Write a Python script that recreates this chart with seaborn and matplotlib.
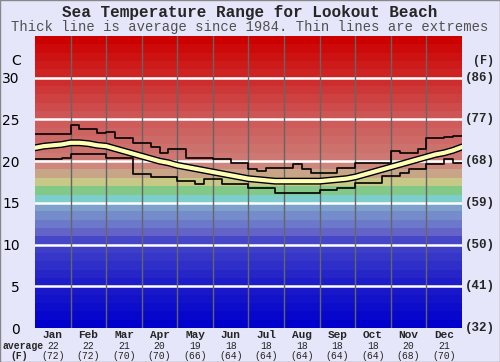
import numpy as np
import pandas as pd
import matplotlib
matplotlib.use("Agg")
import matplotlib.pyplot as plt
import matplotlib.transforms as mtransforms
from matplotlib.patches import Rectangle
import seaborn as sns

# ---------------- data ----------------
months = ["Jan", "Feb", "Mar", "Apr", "May", "Jun", "Jul", "Aug", "Sep", "Oct", "Nov", "Dec"]
avg_c = [22, 22, 21, 20, 19, 18, 18, 18, 18, 18, 20, 21]
avg_f = [72, 72, 70, 70, 66, 64, 64, 64, 64, 64, 68, 70]
c_ticks = [0, 5, 10, 15, 20, 25, 30]
f_ticks = [32, 41, 50, 59, 68, 77, 86]

# average temperature sampled every quarter month (49 points, Jan 1 .. Dec 31)
avg_line = [21.6, 21.8, 21.9, 22.0, 22.2, 22.2, 22.1, 21.9, 21.8, 21.5, 21.2, 20.9,
            20.6, 20.3, 20.0, 19.8, 19.5, 19.3, 19.1, 18.9, 18.7, 18.5, 18.3, 18.1,
            17.9, 17.8, 17.7, 17.6, 17.6, 17.6, 17.6, 17.6, 17.6, 17.7, 17.8, 17.9,
            18.1, 18.4, 18.7, 19.0, 19.3, 19.6, 19.9, 20.2, 20.5, 20.8, 21.0, 21.3, 21.7]
# extreme maxima / minima, one value per quarter month (48 steps)
max_line = [23.2, 23.2, 23.3, 23.2, 24.3, 23.9, 23.9, 23.4, 23.5, 22.8, 22.8, 22.2,
            22.2, 21.7, 21.0, 21.4, 21.4, 20.4, 20.4, 20.4, 20.2, 20.3, 19.8, 19.8,
            19.0, 18.8, 19.2, 19.2, 19.2, 19.6, 19.0, 18.6, 18.6, 18.6, 19.2, 19.2,
            19.8, 19.8, 19.8, 19.8, 21.2, 21.0, 21.0, 21.4, 22.8, 22.8, 22.9, 23.0]
min_line = [20.3, 20.3, 20.2, 20.4, 20.8, 20.9, 20.8, 20.8, 20.4, 20.4, 20.4, 18.4,
            18.4, 18.1, 18.1, 18.1, 17.6, 17.6, 17.3, 17.8, 17.8, 17.3, 17.3, 17.3,
            16.8, 16.8, 16.8, 16.2, 16.2, 16.2, 16.2, 16.2, 16.6, 16.6, 16.8, 16.8,
            17.4, 17.4, 17.4, 18.2, 18.2, 18.6, 19.0, 19.0, 19.6, 19.6, 20.2, 19.8]

# ---------------- styling ----------------
sns.set_style("white")
plt.rcParams['font.family'] = ['DejaVu Sans']
BG = "#e6e6fa"
MONO = "Liberation Mono"

W, H = 500, 362
fig = plt.figure(figsize=(W / 100, H / 100), dpi=100, facecolor=BG)
L, R, T, B = 35, 462, 36, 328
ax = fig.add_axes([L / W, 1 - B / H, (R - L) / W, (B - T) / H])
ax.set_xlim(0, 12)
ax.set_ylim(0, 35)

# colour bands (one per degree)
anchors = {0: (0, 0, 205), 5: (30, 30, 200), 10: (70, 70, 200), 11: (100, 100, 200),
           14: (125, 160, 205), 15: (125, 205, 205), 16: (130, 200, 135),
           17: (200, 200, 135), 18: (200, 165, 135), 19: (205, 135, 125),
           20: (205, 120, 115), 25: (205, 85, 85), 30: (205, 35, 35), 34: (205, 0, 0)}
keys = sorted(anchors)
for d in range(35):
    k0 = max(k for k in keys if k <= d)
    k1 = min([k for k in keys if k > d] or [k0])
    if k1 == k0:
        c = anchors[k0]
    else:
        t = (d - k0) / (k1 - k0)
        c = tuple(a + (b - a) * t for a, b in zip(anchors[k0], anchors[k1]))
    ax.axhspan(d, d + 1, color=tuple(v / 255 for v in c), lw=0, zorder=0)

for yv in c_ticks[1:]:
    ax.axhline(yv, color="white", lw=1.8, zorder=1)
for m in range(1, 12):
    ax.axvline(m, color="#666666", lw=1.0, zorder=1)

# lines
xq = np.arange(49) / 4
df_avg = pd.DataFrame({"x": xq, "y": avg_line})
df_max = pd.DataFrame({"x": xq, "y": max_line + [max_line[-1]]})
df_min = pd.DataFrame({"x": xq, "y": min_line + [min_line[-1]]})
sns.lineplot(data=df_max, x="x", y="y", ax=ax, color="black", lw=1.2,
             drawstyle="steps-post", zorder=3)
sns.lineplot(data=df_min, x="x", y="y", ax=ax, color="black", lw=1.2,
             drawstyle="steps-post", zorder=3)
sns.lineplot(data=df_avg, x="x", y="y", ax=ax, color="black", lw=5, zorder=4)
sns.lineplot(data=df_avg, x="x", y="y", ax=ax, color="#ffffb4", lw=3, zorder=5)

ax.set_xlabel("")
ax.set_ylabel("")
ax.set_xticks([])
ax.set_yticks(c_ticks)
ax.set_yticklabels([str(v) for v in c_ticks], fontsize=10, color="black")
ax.tick_params(axis="y", length=0, pad=11)
for s in ax.spines.values():
    s.set_visible(False)

# right-hand Fahrenheit labels
ytr = mtransforms.blended_transform_factory(ax.transAxes, ax.transData)
for cv, fv in zip(c_ticks, f_ticks):
    ax.text(1.006, cv, f"({fv})", transform=ytr, ha="left", va="center",
            fontsize=9, fontweight="bold", family=MONO, clip_on=False)
ax.text(1.025, 32, "(F)", transform=ytr, ha="left", va="center",
        fontsize=8.5, fontweight="bold", family=MONO, clip_on=False)
ax.text(-0.045, 32, "C", transform=ytr, ha="center", va="center",
        fontsize=10, color="black", clip_on=False)

# bottom labels
xtr = mtransforms.blended_transform_factory(ax.transData, fig.transFigure)
for i, (mn, ac, af) in enumerate(zip(months, avg_c, avg_f)):
    fig.text(0, 1 - 335 / H, mn, transform=xtr, ha="center", va="center",
             fontsize=8, fontweight="bold", family=MONO).set_x(i + 0.5)
    fig.text(0, 1 - 346 / H, str(ac), transform=xtr, ha="center", va="center",
             fontsize=7, family=MONO).set_x(i + 0.5)
    fig.text(0, 1 - 356 / H, f"({af})", transform=xtr, ha="center", va="center",
             fontsize=7, family=MONO).set_x(i + 0.5)
fig.text(23 / W, 1 - 346 / H, "average", ha="center", va="center",
         fontsize=7, fontweight="bold", family=MONO)
fig.text(19 / W, 1 - 356 / H, "(F)", ha="center", va="center",
         fontsize=7, fontweight="bold", family=MONO)

# titles
fig.text(0.5, 1 - 12 / H, "Sea Temperature Range for Lookout Beach", ha="center",
         va="center", fontsize=11.5, fontweight="bold", family=MONO)
fig.text(0.5, 1 - 27 / H, "Thick line is average since 1984. Thin lines are extremes",
         ha="center", va="center", fontsize=10, family=MONO, color="#505050")

fig.patches.append(Rectangle((0, 0), 1, 1, transform=fig.transFigure, fill=False,
                             edgecolor="#888888", lw=1.0))
fig.savefig("out.png", dpi=100, facecolor=BG)
